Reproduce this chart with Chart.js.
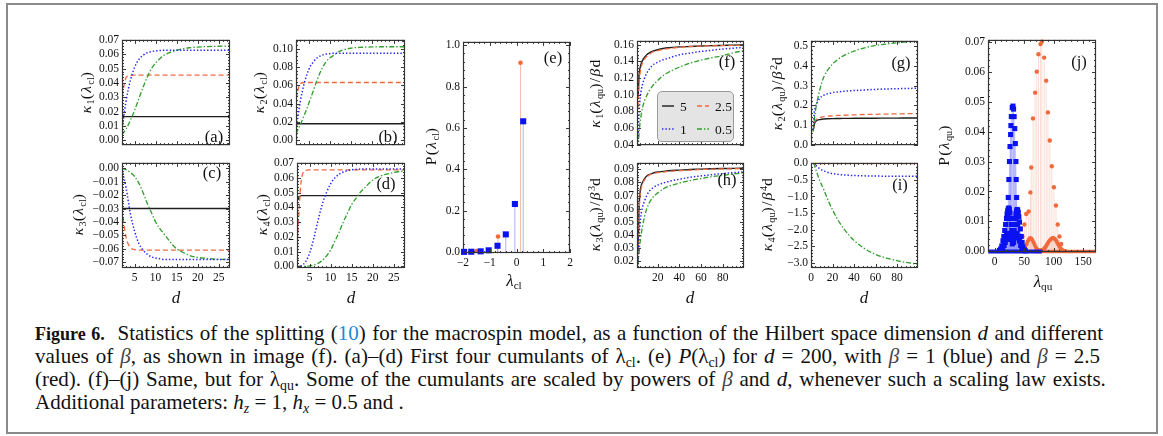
<!DOCTYPE html>
<html><head><meta charset="utf-8">
<script src="https://cdn.jsdelivr.net/npm/chart.js@4.4.1/dist/chart.umd.min.js"></script>
<style>
body{margin:0;background:#fff;}
#fig{position:relative;width:1163px;height:436px;overflow:hidden;font-family:"Liberation Serif","Times New Roman",serif;color:#111;}
#border{position:absolute;left:6px;top:3px;width:1152px;height:431px;border:2px solid #8a8a8a;box-sizing:border-box;}
canvas{position:absolute;}
.yt{position:absolute;transform:translate(-50%,-50%) rotate(-90deg);white-space:nowrap;font-size:15.5px;letter-spacing:1.4px;line-height:1;}
.xt{position:absolute;transform:translate(-50%,-50%);white-space:nowrap;font-size:17px;line-height:1;}
.pl{position:absolute;transform:translate(-50%,-50%);white-space:nowrap;font-size:16.5px;line-height:1;}
sub{font-size:66%;vertical-align:-0.3em;line-height:0;letter-spacing:0;}
sup{font-size:66%;vertical-align:0.55em;line-height:0;letter-spacing:0;}
.cl{position:absolute;left:35px;font-size:21px;line-height:23px;color:#111;}
.cl.j{text-align:justify;text-align-last:justify;}
.cl b{font-size:18px;}
.ref{color:#1b8bd6;}
.m{color:#444;}
</style></head>
<body><div id="fig"><div id="border"></div></div>
<script>
// ---------------- data ----------------
const betas = ['5', '2.5', '1', '0.5'];
const dCl = [2,3,4,5,6,7,8,9,10,11,12,13,14,15,16,17,18,20,22,24,26,28];
const k1Cl_b5  = [0.0165,0.0165,0.0165,0.0165,0.0165,0.0165,0.0165,0.0165,0.0165,0.0165,0.0165,0.0165,0.0165,0.0165,0.0165,0.0165,0.0165,0.0165,0.0165,0.0165,0.0165,0.0165];
const k1Cl_b25 = [0.031,0.044,0.0453,0.0455,0.0455,0.0455,0.0455,0.0455,0.0455,0.0455,0.0455,0.0455,0.0455,0.0455,0.0455,0.0455,0.0455,0.0455,0.0455,0.0455,0.0455,0.0455];
const k1Cl_b1  = [0.008,0.028,0.042,0.051,0.0565,0.0594,0.0612,0.062,0.0625,0.0628,0.063,0.063,0.063,0.063,0.063,0.063,0.063,0.063,0.063,0.063,0.063,0.063];
const k1Cl_b05 = [0.004,0.008,0.014,0.021,0.029,0.037,0.044,0.050,0.054,0.057,0.0595,0.061,0.062,0.063,0.0637,0.0643,0.0647,0.0652,0.0655,0.0657,0.0658,0.066];

const k2Cl_b5  = [0.018,0.018,0.018,0.018,0.018,0.018,0.018,0.018,0.018,0.018,0.018,0.018,0.018,0.018,0.018,0.018,0.018,0.018,0.018,0.018,0.018,0.018];
const k2Cl_b25 = [0.045,0.062,0.063,0.063,0.063,0.063,0.063,0.063,0.063,0.063,0.063,0.063,0.063,0.063,0.063,0.063,0.063,0.063,0.063,0.063,0.063,0.063];
const k2Cl_b1  = [0.012,0.042,0.063,0.077,0.085,0.090,0.0925,0.094,0.0945,0.095,0.095,0.095,0.095,0.095,0.095,0.095,0.095,0.095,0.095,0.095,0.095,0.095];
const k2Cl_b05 = [0.007,0.017,0.028,0.040,0.053,0.066,0.077,0.085,0.090,0.093,0.0965,0.0985,0.0998,0.1005,0.101,0.1013,0.1015,0.1018,0.102,0.102,0.102,0.102];

const k3Cl_b5  = [-0.03,-0.03,-0.03,-0.03,-0.03,-0.03,-0.03,-0.03,-0.03,-0.03,-0.03,-0.03,-0.03,-0.03,-0.03,-0.03,-0.03,-0.03,-0.03,-0.03,-0.03,-0.03];
const k3Cl_b25 = [-0.031,-0.052,-0.059,-0.0607,-0.061,-0.061,-0.061,-0.061,-0.061,-0.061,-0.061,-0.061,-0.061,-0.061,-0.061,-0.061,-0.061,-0.061,-0.061,-0.061,-0.061,-0.061];
const k3Cl_b1  = [-0.001,-0.015,-0.034,-0.047,-0.056,-0.061,-0.064,-0.066,-0.067,-0.0675,-0.068,-0.068,-0.068,-0.068,-0.068,-0.068,-0.068,-0.068,-0.068,-0.068,-0.068,-0.068];
const k3Cl_b05 = [0,-0.001,-0.003,-0.006,-0.011,-0.018,-0.026,-0.033,-0.040,-0.045,-0.049,-0.053,-0.057,-0.060,-0.062,-0.0635,-0.065,-0.0665,-0.0672,-0.0677,-0.068,-0.068];

const k4Cl_b5  = [0.045,0.048,0.048,0.048,0.048,0.048,0.048,0.048,0.048,0.048,0.048,0.048,0.048,0.048,0.048,0.048,0.048,0.048,0.048,0.048,0.048,0.048];
const k4Cl_b25 = [0.012,0.058,0.065,0.0655,0.0655,0.0655,0.0655,0.0655,0.0655,0.0655,0.0655,0.0655,0.0655,0.0655,0.0655,0.0655,0.0655,0.0655,0.0655,0.0655,0.0655,0.0655];
const k4Cl_b1  = [0,0.0005,0.003,0.009,0.019,0.031,0.042,0.050,0.056,0.060,0.0625,0.064,0.065,0.0655,0.0658,0.066,0.066,0.066,0.066,0.066,0.066,0.066];
const k4Cl_b05 = [0,0,0,0.0003,0.001,0.002,0.004,0.007,0.011,0.017,0.023,0.030,0.036,0.042,0.046,0.050,0.053,0.0585,0.0615,0.063,0.0642,0.0648];

const pClX_b1  = [-1.96,-1.69,-1.34,-1.04,-0.71,-0.40,-0.06,0.25];
const pClY_b1  = [0.0005,0.001,0.003,0.008,0.030,0.085,0.232,0.632];
const pClX_b25 = [-1.50,-0.69,0.15];
const pClY_b25 = [0.005,0.075,0.915];

const dQu = [2,3,4,5,6,8,10,12,15,20,25,30,40,50,60,70,80,90,100];
const k1Qu_b5  = [0.095,0.125,0.133,0.138,0.141,0.145,0.148,0.150,0.152,0.154,0.1555,0.1565,0.1575,0.158,0.1585,0.159,0.1593,0.1596,0.160];
const k1Qu_b25 = [0.085,0.117,0.127,0.134,0.138,0.143,0.146,0.148,0.151,0.153,0.1545,0.1555,0.157,0.158,0.1585,0.1588,0.159,0.1592,0.1593];
const k1Qu_b1  = [0.05,0.08,0.097,0.106,0.112,0.12,0.126,0.13,0.135,0.139,0.142,0.144,0.148,0.150,0.152,0.1535,0.155,0.156,0.157];
const k1Qu_b05 = [0.035,0.055,0.068,0.077,0.084,0.093,0.099,0.104,0.110,0.117,0.123,0.127,0.133,0.138,0.1415,0.1445,0.147,0.1505,0.153];

const k2Qu_b5  = [0.07,0.10,0.115,0.121,0.124,0.127,0.129,0.130,0.131,0.132,0.1325,0.133,0.1335,0.134,0.134,0.1345,0.1345,0.135,0.135];
const k2Qu_b25 = [0.07,0.105,0.122,0.128,0.132,0.137,0.140,0.142,0.144,0.146,0.148,0.149,0.151,0.153,0.154,0.155,0.156,0.157,0.158];
const k2Qu_b1  = [0.075,0.16,0.19,0.205,0.217,0.235,0.245,0.252,0.258,0.264,0.268,0.271,0.275,0.278,0.281,0.283,0.2845,0.2855,0.287];
const k2Qu_b05 = [0.065,0.12,0.165,0.20,0.228,0.275,0.315,0.345,0.375,0.41,0.434,0.452,0.476,0.493,0.505,0.512,0.518,0.523,0.527];

const k3Qu_b5  = [0.03,0.062,0.074,0.078,0.080,0.083,0.085,0.086,0.087,0.088,0.0885,0.089,0.0895,0.090,0.0902,0.0905,0.0907,0.0908,0.091];
const k3Qu_b25 = [0.025,0.058,0.071,0.076,0.079,0.082,0.084,0.0855,0.0865,0.0875,0.088,0.0885,0.089,0.0895,0.090,0.0902,0.0904,0.0905,0.0906];
const k3Qu_b1  = [0.02,0.04,0.05,0.057,0.061,0.066,0.070,0.073,0.0755,0.078,0.0795,0.0808,0.0825,0.084,0.085,0.086,0.0868,0.0876,0.0882];
const k3Qu_b05 = [0.017,0.027,0.035,0.041,0.046,0.054,0.060,0.064,0.068,0.072,0.075,0.077,0.0795,0.0815,0.083,0.0845,0.0855,0.0865,0.0875];

const k4Qu_b5  = [0,0,0,0,0,0,0,0,0,0,0,0,0,0,0,0,0,0,0];
const k4Qu_b25 = [-0.005,-0.012,-0.012,-0.012,-0.012,-0.012,-0.012,-0.012,-0.012,-0.012,-0.012,-0.012,-0.012,-0.012,-0.012,-0.012,-0.012,-0.012,-0.012];
const k4Qu_b1  = [0,-0.02,-0.05,-0.08,-0.11,-0.16,-0.2,-0.23,-0.27,-0.31,-0.335,-0.35,-0.37,-0.38,-0.385,-0.39,-0.392,-0.394,-0.395];
const k4Qu_b05 = [0,-0.04,-0.14,-0.24,-0.33,-0.51,-0.66,-0.8,-1.05,-1.4,-1.7,-1.95,-2.32,-2.57,-2.74,-2.85,-2.93,-2.99,-3.04];

const pQuX_b1tall = [20,22,23,24,25,26,27,27.5,28.2,29.7,31,32,33,34,35,36,36.5,37.2,38,39,41];
const pQuY_b1tall = [0.006,0.012,0.018,0.024,0.030,0.035,0.039,0.042,0.045,0.048,0.0485,0.0475,0.045,0.041,0.036,0.030,0.024,0.018,0.013,0.009,0.005];
const pQuX_b1low  = [8,10,12,14,15.5,17,18.5,20,21,22,23,24,25,26,27,28,29,30,31,32,33,34,35,36,37,38,39,40,41,42,43.5,45,46.5,48,50,52];
const pQuY_b1low  = [0.0003,0.0008,0.0018,0.0035,0.005,0.007,0.009,0.011,0.0125,0.0135,0.0142,0.0145,0.014,0.0128,0.011,0.009,0.007,0.0055,0.005,0.0055,0.007,0.009,0.011,0.0125,0.0135,0.014,0.0138,0.013,0.0115,0.0098,0.0075,0.005,0.003,0.0015,0.0006,0.0002];
const pQuX_b1mid  = [12,14,16,18,20,22,24,26,28,30,32,34,36,38,40,42,44,46];
const pQuY_b1mid  = [0.0005,0.001,0.002,0.003,0.004,0.005,0.006,0.0055,0.004,0.0025,0.003,0.0045,0.0055,0.006,0.005,0.0035,0.002,0.001];
const pQuX_b1zero = [-11,80];
const pQuY_b1zero = [0,0];
const pQuX_b25tall = [44,47,50.3,53.5,57.6,60.6,62,65,68.6,71.4,74.3,77.7,80,84,87.4,90.3,93.5,97,100.5,104,107,110,113];
const pQuY_b25tall = [0.0025,0.005,0.009,0.0125,0.0133,0.0197,0.028,0.0444,0.053,0.060,0.0658,0.0692,0.070,0.0647,0.057,0.0464,0.037,0.0284,0.0214,0.0153,0.009,0.005,0.0025];
const pQuX_b25low = [48,50,52,54,56,58,60,62,64,66,68,70,72,74,76,78,80,82,84,86,88,90,92,94,96,98,100,102,104,106,108,110,112,114,116,118,120];
const pQuY_b25low = [0.0003,0.0008,0.0015,0.0024,0.0033,0.004,0.0044,0.0043,0.0038,0.003,0.0021,0.0013,0.0007,0.0004,0.0003,0.0003,0.0004,0.0006,0.0009,0.0014,0.002,0.0027,0.0033,0.0038,0.0042,0.0044,0.0044,0.0042,0.0037,0.003,0.0023,0.0016,0.001,0.0006,0.0003,0.0002,0.0001];
const pQuX_b25zero = [68,172];
const pQuY_b25zero = [0,0];

// ---------------- drawing ----------------
const FONT = '"Liberation Serif", "Times New Roman", serif';
const YW = 50, PT = 8, PR = 10;
const STY = {
  '5':   {borderColor:'#1e1e1e', borderDash:[], borderWidth:1.4},
  '2.5': {borderColor:'#ee6a3e', borderDash:[5,3], borderWidth:1.3},
  '1':   {borderColor:'#2626f0', borderDash:[1.4,2], borderWidth:1.5},
  '0.5': {borderColor:'#2f9e2a', borderDash:[5,2,1.4,2], borderWidth:1.3}
};
const BLUE = '#0a12f2', RED = '#ef6a3c', BLUE_L = 'rgba(130,135,248,0.45)', RED_L = 'rgba(244,150,120,0.32)';

function curve(xs, ys, beta) {
  return Object.assign({data: xs.map((x,i)=>({x, y: ys[i]})), pointRadius:0, fill:false,
    cubicInterpolationMode:'monotone', clip:0}, STY[beta]);
}
function stems(xs, ys, color) {
  const d = [];
  xs.forEach((x,i)=>{ d.push({x, y:0}, {x, y:ys[i]}, {x, y:null}); });
  return {data:d, borderColor:color, borderWidth:1, pointRadius:0, spanGaps:false, tension:0, clip:0};
}
function marks(xs, ys, color, style, r) {
  return {data: xs.map((x,i)=>({x, y:ys[i]})), showLine:false, pointStyle:style, pointRadius:r,
    pointHoverRadius:r, pointBackgroundColor:color, pointBorderColor:color, pointBorderWidth:0, clip:false};
}
function baseLine(xs, ys, color, w) {
  return {data: xs.map((x,i)=>({x, y:ys[i]})), borderColor:color, borderWidth:w, pointRadius:0, clip:false};
}
function fmt(dec) {
  return v => { const s = Math.abs(v) < 1e-9 ? (0).toFixed(dec) : Number(v).toFixed(dec); return s.replace('-', '\u2212'); };
}
const framePlugin = {
  id: 'frame',
  afterDraw(chart) {
    const {ctx, chartArea: a, scales} = chart;
    ctx.save();
    ctx.strokeStyle = '#3a3a3a';
    ctx.lineWidth = 1;
    const doScale = (sc, horiz) => {
      const tv = sc.ticks.map(t => t.value);
      if (tv.length < 2) return;
      const step = tv[1] - tv[0], minor = step / 5;
      const lo = Math.min(sc.min, sc.max), hi = Math.max(sc.min, sc.max);
      ctx.beginPath();
      for (let k = -5; k <= (tv.length) * 5 + 5; k++) {
        const v = tv[0] + k * minor;
        if (v < lo - 1e-12 || v > hi + 1e-12) continue;
        const len = (((k % 5) + 5) % 5 === 0) ? 4 : 2;
        const p = Math.round(sc.getPixelForValue(v)) + 0.5;
        if (horiz) {
          ctx.moveTo(p, a.bottom); ctx.lineTo(p, a.bottom - len);
          ctx.moveTo(p, a.top); ctx.lineTo(p, a.top + len);
        } else {
          ctx.moveTo(a.left, p); ctx.lineTo(a.left + len, p);
          ctx.moveTo(a.right, p); ctx.lineTo(a.right - len, p);
        }
      }
      ctx.stroke();
    };
    doScale(scales.x, true);
    doScale(scales.y, false);
    ctx.lineWidth = 1.2;
    ctx.strokeStyle = '#333';
    ctx.strokeRect(a.left + 0.5, a.top + 0.5, a.right - a.left - 1, a.bottom - a.top - 1);
    ctx.restore();
  }
};
function axis(min, max, step, dec, show, isY, XH) {
  return {
    type:'linear', min, max,
    grid:{display:false, drawTicks:false}, border:{display:false},
    ticks:{stepSize:step, includeBounds:false, display:show, padding:3, autoSkip:false, maxRotation:0,
      color:'#111', font:{family:FONT, size:11.5}, callback: fmt(dec)},
    afterFit: isY ? (s => { s.width = YW; }) : (s => { s.height = XH; })
  };
}
const fig = document.getElementById('fig');
function panel(rect, xAx, yAx, datasets) {
  const XH = xAx.show ? 20 : 8;
  const w = (rect.r - rect.l) + YW + PR, h = (rect.b - rect.t) + PT + XH;
  const cv = document.createElement('canvas');
  cv.width = w; cv.height = h;
  cv.style.left = (rect.l - YW) + 'px'; cv.style.top = (rect.t - PT) + 'px';
  cv.style.width = w + 'px'; cv.style.height = h + 'px';
  fig.appendChild(cv);
  new Chart(cv, {
    type:'line',
    data:{datasets},
    options:{
      responsive:false, animation:false, devicePixelRatio:1, events:[],
      layout:{padding:{top:PT, right:PR, left:0, bottom:0}},
      plugins:{legend:{display:false}, tooltip:{enabled:false}},
      scales:{
        x: axis(xAx.min, xAx.max, xAx.step, xAx.dec, xAx.show, false, XH),
        y: axis(yAx.min, yAx.max, yAx.step, yAx.dec, true, true, XH)
      }
    },
    plugins:[framePlugin]
  });
}
function four(xs, a5, a25, a1, a05) {
  return [curve(xs, a1, '1'), curve(xs, a05, '0.5'), curve(xs, a25, '2.5'), curve(xs, a5, '5')];
}
const xCl = {min:2, max:27.7, step:5, dec:0};
panel({l:122,t:38,r:230,b:147}, Object.assign({show:false}, xCl), {min:-0.0034, max:0.0702, step:0.01, dec:2}, four(dCl, k1Cl_b5, k1Cl_b25, k1Cl_b1, k1Cl_b05));
panel({l:296,t:38,r:405,b:147}, Object.assign({show:false}, xCl), {min:-0.0053, max:0.1095, step:0.02, dec:2}, four(dCl, k2Cl_b5, k2Cl_b25, k2Cl_b1, k2Cl_b05));
panel({l:122,t:161,r:230,b:268}, Object.assign({show:true}, xCl), {min:-0.0744, max:0.0041, step:0.01, dec:2}, four(dCl, k3Cl_b5, k3Cl_b25, k3Cl_b1, k3Cl_b05));
panel({l:297,t:161,r:405,b:268}, Object.assign({show:true}, xCl), {min:-0.0011, max:0.0702, step:0.01, dec:2}, four(dCl, k4Cl_b5, k4Cl_b25, k4Cl_b1, k4Cl_b05));

panel({l:463,t:40,r:570,b:253}, {min:-2, max:2, step:1, dec:0, show:true}, {min:-0.005, max:1.016, step:0.2, dec:1}, [
  marks(pClX_b1, pClY_b1, BLUE, 'rect', 4.3),
  marks(pClX_b25, pClY_b25, RED, 'circle', 2.3),
  stems(pClX_b1, pClY_b1, 'rgba(120,125,245,0.6)'),
  stems(pClX_b25, pClY_b25, 'rgba(240,145,115,0.6)')
]);

panel({l:637,t:39,r:744,b:147}, {min:1, max:99.5, step:20, dec:0, show:false}, {min:0.0393, max:0.1647, step:0.02, dec:2}, four(dQu, k1Qu_b5, k1Qu_b25, k1Qu_b1, k1Qu_b05));
panel({l:811,t:39,r:918,b:147}, {min:0, max:99.5, step:20, dec:0, show:false}, {min:-0.003, max:0.528, step:0.1, dec:1}, four(dQu, k2Qu_b5, k2Qu_b25, k2Qu_b1, k2Qu_b05));
panel({l:637,t:161,r:744,b:268}, {min:1, max:99.5, step:20, dec:0, show:true}, {min:0.0145, max:0.095, step:0.01, dec:2}, four(dQu, k3Qu_b5, k3Qu_b25, k3Qu_b1, k3Qu_b05));
panel({l:811,t:161,r:918,b:268}, {min:0, max:99.5, step:20, dec:0, show:true}, {min:-3.15, max:0.01, step:0.5, dec:1}, four(dQu, k4Qu_b5, k4Qu_b25, k4Qu_b1, k4Qu_b05));

panel({l:988,t:38,r:1096,b:252}, {min:-11.4, max:172, step:50, dec:0, show:true}, {min:-0.0002, max:0.0706, step:0.01, dec:2}, [
  marks(pQuX_b1tall, pQuY_b1tall, BLUE, 'rect', 3.6),
  marks(pQuX_b1low, pQuY_b1low, BLUE, 'rect', 3.6),
  marks(pQuX_b1mid, pQuY_b1mid, BLUE, 'rect', 3.6),
  baseLine(pQuX_b1zero, pQuY_b1zero, BLUE, 4),
  marks(pQuX_b25tall, pQuY_b25tall, RED, 'circle', 2.2),
  marks(pQuX_b25low, pQuY_b25low, RED, 'circle', 2.1),
  baseLine(pQuX_b25zero, pQuY_b25zero, RED, 3.5),
  stems(pQuX_b1tall, pQuY_b1tall, BLUE_L),
  stems(pQuX_b1low, pQuY_b1low, BLUE_L),
  stems(pQuX_b25tall, pQuY_b25tall, RED_L),
  stems(pQuX_b25low, pQuY_b25low, RED_L)
]);

// ---------------- text ----------------
function addDiv(cls, x, y, html) {
  const d = document.createElement('div');
  d.className = cls; d.style.left = x + 'px'; d.style.top = y + 'px'; d.innerHTML = html;
  fig.appendChild(d);
}
const cl = '(<i>λ</i><sub>cl</sub>)', qu = '(<i>λ</i><sub>qu</sub>)';
addDiv('yt', 86, 92, '<i>κ</i><sub>1</sub>' + cl);
addDiv('yt', 259, 92, '<i>κ</i><sub>2</sub>' + cl);
addDiv('yt', 78, 214, '<i>κ</i><sub>3</sub>' + cl);
addDiv('yt', 262, 214, '<i>κ</i><sub>4</sub>' + cl);
addDiv('yt', 431, 146, 'P' + cl);
addDiv('yt', 595, 93, '<i>κ</i><sub>1</sub>' + qu + '/<i>β</i>d');
addDiv('yt', 777, 93, '<i>κ</i><sub>2</sub>' + qu + '/<i>β</i><sup>2</sup>d');
addDiv('yt', 595, 214, '<i>κ</i><sub>3</sub>' + qu + '/<i>β</i><sup>3</sup>d');
addDiv('yt', 767, 214, '<i>κ</i><sub>4</sub>' + qu + '/<i>β</i><sup>4</sup>d');
addDiv('yt', 944, 145, 'P' + qu);
addDiv('xt', 176, 297, '<i>d</i>');
addDiv('xt', 351, 297, '<i>d</i>');
addDiv('xt', 690, 297, '<i>d</i>');
addDiv('xt', 864, 297, '<i>d</i>');
addDiv('xt', 514, 280, '<i>λ</i><sub>cl</sub>');
addDiv('xt', 1043, 281, '<i>λ</i><sub>qu</sub>');
[['(a)',214,137],['(b)',388,137],['(c)',212,173],['(d)',386,184],['(e)',553,58],['(f)',727,62],
 ['(g)',901,63],['(h)',727,180],['(i)',900,185],['(j)',1079,62]].forEach(p => addDiv('pl', p[1], p[2], p[0]));

// legend of (f)
const leg = document.createElement('div');
leg.style.cssText = 'position:absolute;left:657px;top:91px;width:77px;height:51px;background:#e4e4e4;border:1px solid #9a9a9a;border-radius:5px;box-sizing:border-box;';
const legItems = [[betas[0], 4, 14], [betas[1], 39, 14], [betas[2], 4, 37], [betas[3], 39, 37]];
let svg = '<svg width="75" height="49" xmlns="http://www.w3.org/2000/svg" style="position:absolute;left:0;top:0">';
legItems.forEach(([b, x, y]) => {
  const s = STY[b];
  svg += `<line x1="${x}" y1="${y}" x2="${x+12}" y2="${y}" stroke="${s.borderColor}" stroke-width="${s.borderWidth}" stroke-dasharray="${s.borderDash.join(' ') || 'none'}"/>`;
  svg += `<text x="${x+18}" y="${y+4.5}" font-family='Liberation Serif, serif' font-size="13.5" fill="#111">${b}</text>`;
});
svg += '</svg>';
leg.innerHTML = svg;
fig.appendChild(leg);

// caption
const capLines = [
  {cls:'cl j', w:1068, html:'<b>Figure 6.</b>&nbsp; Statistics of the splitting (<span class="ref">10</span>) for the macrospin model, as a function of the Hilbert space dimension <i>d</i> and different'},
  {cls:'cl j', w:1065, html:'values of <i class="m">β</i>, as shown in image (f). (a)–(d) First four cumulants of λ<sub>cl</sub>. (e) <i>P</i>(λ<sub>cl</sub>) for <i>d</i> = 200, with <i class="m">β</i> = 1 (blue) and <i class="m">β</i> = 2.5'},
  {cls:'cl', w:0, html:'(red). (f)–(j) Same, but for λ<sub>qu</sub>. Some of the cumulants are scaled by powers of <i class="m">β</i> and <i>d</i>, whenever such a scaling law exists.', ws:'1.6px'},
  {cls:'cl', w:0, html:'Additional parameters: <i>h<sub>z</sub></i> = 1, <i>h<sub>x</sub></i> = 0.5 and .'}
];
capLines.forEach((ln, i) => {
  const d = document.createElement('div');
  d.className = ln.cls;
  d.style.top = (322 + i * 23) + 'px';
  if (ln.w) d.style.width = ln.w + 'px'; else d.style.whiteSpace = 'nowrap';
  if (ln.ws) d.style.wordSpacing = ln.ws;
  d.innerHTML = ln.html;
  fig.appendChild(d);
});
</script>
</body></html>
